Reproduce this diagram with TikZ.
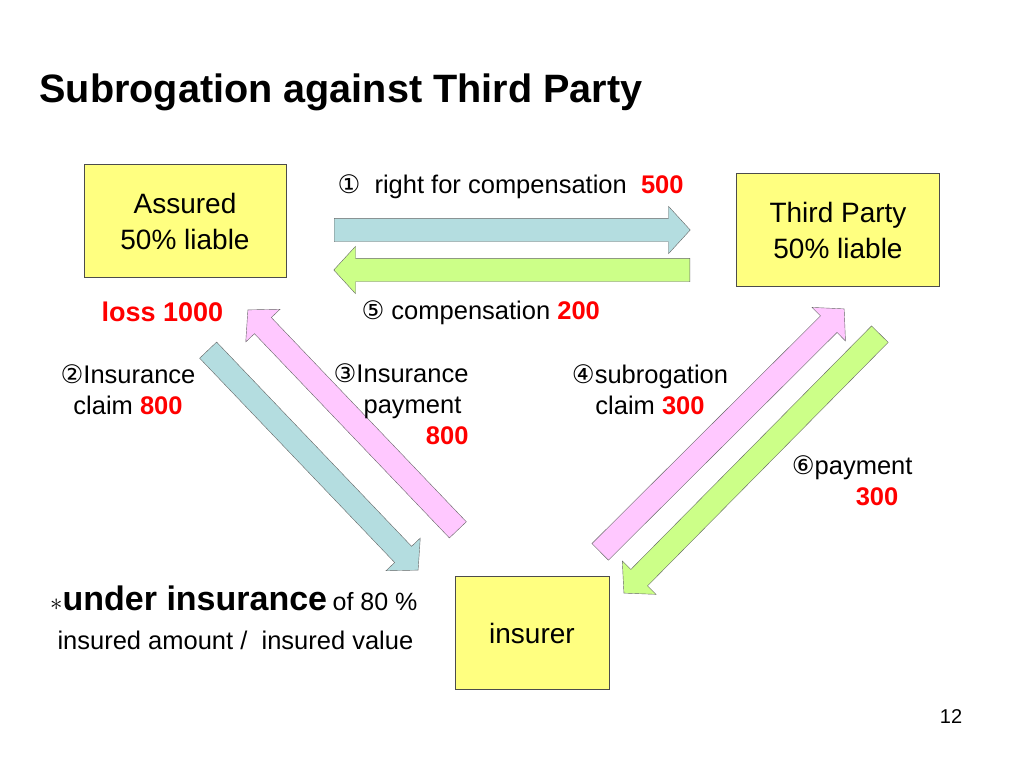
\documentclass[tikz,border=0pt]{standalone}
\usepackage{fontspec}
\setmainfont{Liberation Sans}
\newfontfamily\symf{DejaVu Sans}
\usetikzlibrary{shapes.arrows,calc}
\definecolor{boxyellow}{HTML}{FFFF80}
\definecolor{arrblue}{HTML}{B4DDE0}
\definecolor{arrgreen}{HTML}{CCFF88}
\definecolor{arrpink}{HTML}{FFC8FF}
\definecolor{numred}{HTML}{FF0000}
\tikzset{
  party/.style={draw=black!70, fill=boxyellow, align=center, font=\fontsize{28}{36}\selectfont},
  lbl/.style={font=\fontsize{25.5}{31}\selectfont, align=center},
  blockarr/.style={single arrow, draw=black!60, inner sep=0pt,
    single arrow head extend=12pt, single arrow tip angle=95, anchor=tail},
}
\newcommand\blockarrow[3]{%
  \path let \p1=(#1), \p2=(#2), \n1={atan2(\y2-\y1,\x2-\x1)},
    \n2={veclen(\x2-\x1,\y2-\y1)} in
    node[blockarr, fill=#3, minimum height=\n2, rotate=\n1] at (\p1) {\rule{0pt}{23pt}};}
\newcommand\red[1]{\textcolor{numred}{\textbf{#1}}}
\begin{document}
\begin{tikzpicture}[x=1pt,y=-1pt]
  \useasboundingbox[fill=white] (0,0) rectangle (1024,768);
  % title
  \node[anchor=west, font=\fontsize{39.6}{44}\selectfont\bfseries] (title) at (36,92) {Subrogation against Third Party};
  % parties
  \node[party, minimum width=202pt, minimum height=113pt] (assured) at (185,221) {Assured\\50\% liable};
  \node[party, minimum width=203pt, minimum height=113pt] (third) at (838,230) {Third Party\\50\% liable};
  \node[party, minimum width=154pt, minimum height=113pt] (insurer) at (532,633) {insurer};
  % arrow end points
  \coordinate (r1) at (334,230); \coordinate (r2) at (690,230);
  \coordinate (l1) at (690,270); \coordinate (l2) at (334,270);
  \coordinate (b1) at (208,350); \coordinate (b2) at (418,570);
  \coordinate (p1) at (458,530); \coordinate (p2) at (248,310);
  \coordinate (q1) at (600,552); \coordinate (q2) at (844,309);
  \coordinate (g1) at (880,334); \coordinate (g2) at (624,593);
  \blockarrow{r1}{r2}{arrblue}
  \blockarrow{l1}{l2}{arrgreen}
  \blockarrow{b1}{b2}{arrblue}
  \blockarrow{p1}{p2}{arrpink}
  \blockarrow{q1}{q2}{arrpink}
  \blockarrow{g1}{g2}{arrgreen}
  % labels
  \node[lbl, anchor=west] (n1) at (334,187) {{\symf ①}\ \ right for compensation\ \ \red{500}};
  \node[lbl, anchor=west] (n5) at (358,313) {{\symf ⑤} compensation \red{200}};
  \node[lbl, anchor=west, font=\fontsize{27}{31}\selectfont] (loss) at (98,312) {\red{loss 1000}};
  \node[lbl] (n2) at (128,390) {{\symf ②}Insurance\\claim \red{800}};
  \node[lbl, align=right, anchor=north east] (n3) at (472,360) {{\symf ③}Insurance\\payment\ \ \ \\\red{800}};
  \node[lbl] (n4) at (650,390) {{\symf ④}subrogation\\claim \red{300}};
  \node[lbl, align=right, anchor=north east] (n6) at (916,452) {{\symf ⑥}payment\\\red{300}\ \ \ };
  \node[anchor=west, inner sep=0pt] (note) at (50,598) {{\fontsize{34}{36}\selectfont$\ast$}{\fontsize{34}{36}\selectfont\bfseries under insurance}\ \ {\fontsize{25}{28}\selectfont of 80 \%}};
  \node[lbl, anchor=west] (note2) at (54,640) {insured amount /\ \ insured value};
  \node[font=\fontsize{20}{22}\selectfont] (page) at (951,717) {12};
\end{tikzpicture}
\end{document}
